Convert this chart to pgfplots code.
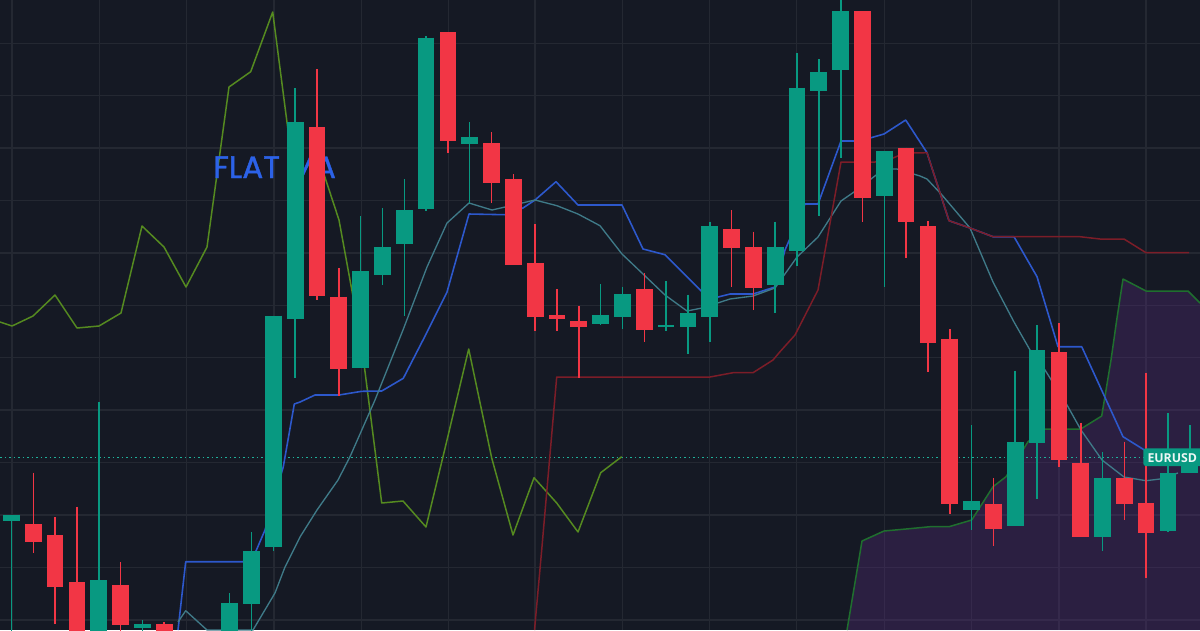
\documentclass[border=0pt]{standalone}
\usepackage{pgfplots}
\usepackage{pgfplotstable}
\usepackage{fontspec}
\pgfplotsset{compat=1.18}
\setmainfont{Open Sans}
\newfontfamily\flatfont[FakeBold=1.3]{Poppins}
\definecolor{bgc}{HTML}{151924}
\definecolor{gridc}{HTML}{242832}
\definecolor{upc}{HTML}{089981}
\definecolor{downc}{HTML}{F23645}
\definecolor{bluec}{HTML}{2D58CC}
\definecolor{tealc}{HTML}{3F7A88}
\definecolor{darkredc}{HTML}{7C1D28}
\definecolor{olivec}{HTML}{558A20}
\definecolor{cloudc}{HTML}{1F6F2E}
\definecolor{purplec}{HTML}{5F2E86}
\definecolor{flatc}{HTML}{2C62E8}
\definecolor{dotc}{HTML}{1FB09A}
% x, wick high, body top, body bottom, wick low: chart positions, y growing downward
\pgfplotstableread{
x hi top bot lo
-40 500 510 520 530
11.5 514.7 514.7 521.3 660
98.8 401.7 580 645 660
142.4 620 624 628.3 645
229.7 593.3 603 660 670
251.5 532.3 551 604 660
273.3 315.7 315.7 546.7 551
295.2 88.3 122 318.7 378.3
360.6 216 271.3 368.3 368.3
382.4 208.3 247 274.7 284.7
404.3 179.3 210.3 243.7 315.7
426.1 36 37.7 209.3 210.7
469.7 122 137.3 144 202.7
600.6 284 315.3 324.3 325
622.5 286.7 294.3 316.7 329
666.1 281.3 325.3 327 330.7
687.9 294.7 313.3 326.7 354
709.7 221.7 226 316.7 341.7
775.2 221.7 247 285.3 313.3
797.0 53.3 87.7 251 265.7
818.8 59 72 91 216
840.7 -5 11.3 70 158.3
884.3 150.7 150.7 196 286.7
971.6 425 501.3 510 530
1015.2 370.7 441.7 525.7 525.7
1037.0 325 350 442.7 499
1102.5 452 478 536.7 550.7
1167.9 413.3 472.7 531 532
1189.8 425 452 473 473
}\upT
\pgfplotstableread{
x hi top bot lo
-40 500 510 520 530
33.3 472.7 524.3 542.3 553.3
55.1 517 535.3 586.7 624
77.0 506.7 582 660 670
120.6 562.3 585.3 625.3 645
164.2 622 624 660 670
317.0 69 127.3 295.7 300
338.8 268.3 296.7 368.7 395.7
447.9 32.3 32.3 140.7 152.7
491.5 132 143 182.7 202.7
513.4 174 179.3 264.7 264.7
535.2 224 263.3 316.7 330.7
557.0 289 315.3 319 330.7
578.8 305.7 321 326.7 378.3
644.3 273.3 289 330 341.7
731.6 210 229.3 248 286.7
753.4 231.7 247 287.7 310
862.5 11.3 11.3 198.3 221.7
906.1 147.7 147.7 222.3 257.7
927.9 221.3 226 343 372
949.8 329 338.7 504.3 514.3
993.4 478.3 503.7 529 545.7
1058.9 323.3 352 460 466.7
1080.7 422.7 462.7 536.7 536.7
1124.3 441.7 478 504.3 520
1146.1 372.7 503.3 533.3 577.7
}\downT
\begin{document}
\begin{tikzpicture}
\path[use as bounding box] (0,0) rectangle (720pt,378pt);
\begin{axis}[
  at={(0,0)},anchor=south west,
  scale only axis,width=720pt,height=378pt,
  xmin=0,xmax=1200,ymin=0,ymax=630,y dir=reverse,
  axis background/.style={fill=bgc},
  axis line style={draw=none},
  tick style={draw=none},
  xticklabels={},yticklabels={},
  xtick={12,99.3,186.6,274,361.3,448.6,535,622.3,709.5,796.8,884.2,971.3,1059,1146},
  ytick={43.3,95.6,148,200.5,253,305.5,357.8,410,462.5,515,567.3,620},
  grid=major,
  major grid style={draw=gridc,line width=0.7pt},
  clip=true,
]
% cloud fill
\addplot[fill=purplec,fill opacity=0.3,draw=none] coordinates {
(847,630)(862,541)(884,531)(906,529)(930,526.7)(949,526.7)(971.7,520)(993,486.7)(1006,476.7)(1015,463)(1028,441.7)(1045,429)(1080.7,429)(1101.7,416)(1111,360)(1116.7,320)(1123,279)(1146,291)(1188,291)(1200,303)(1200,630)};
\addplot[cloudc,line width=0.9pt,line join=round] coordinates {
(847,630)(862,541)(884,531)(906,529)(930,526.7)(949,526.7)(971.7,520)(993,486.7)(1006,476.7)(1015,463)(1028,441.7)(1045,429)(1080.7,429)(1101.7,416)(1111,360)(1116.7,320)(1123,279)(1146,291)(1188,291)(1200,303)};
% dotted last price
\addplot[dotc,line width=0.75pt,dash pattern=on 0.9pt off 1.8pt] coordinates {(0,457.8)(1200,457.8)};
% olive
\addplot[olivec,line width=0.9pt,line join=round] coordinates {
(0,322)(12,326)(33,316)(55,295)(77,328)(99,326)(121,313)(142,226)(164,247)(186,287)(207,247)(229,87)(250.7,71.7)(272.7,12)(295,184)(317,153)(339,220)(361,340)(381.7,503)(403,501)(426,527)(447.5,438)(468.7,349)(491.7,458)(513,535)(534,477.7)(556.7,503)(578,532)(600.7,472.7)(621.7,456.7)};
% blue
\addplot[bluec,line width=0.95pt,line join=round] coordinates {
(178,630)(185.7,561.7)(243,561.7)(256,551)(265,530)(283.3,466.7)(294.3,404)(300,402)(315,395)(339,395)(361.7,391.3)(381.7,391)(403.3,378.3)(423,340)(447,292)(469,214)(505,214.7)(523,208)(535,200)(556,181.7)(578,205)(622,205)(643,249)(665,254.7)(702,291.7)(718,297)(730,294)(753,294)(775,287)(785,250)(805,204)(818,204)(841,141)(854,141)(870,138)(884,134)(905.7,120)(927,152.7)(949,220.7)(970,228)(993,236.7)(1014,236.7)(1037,276.7)(1058,346.7)(1081.7,346.7)(1123,436.7)(1146,451)};
% teal
\addplot[tealc,line width=0.8pt,line join=round] coordinates {
(178,622)(185.7,610.7)(207,630)(253,630)(275,593)(285,567)(300,537)(317,510)(338,480)(350,456.7)(375,400)(403,330)(427,267)(447,223)(469,203)(492,210)(505,207)(535,200)(557,205.7)(578,214)(600,225.7)(622,254)(643,274)(665,295)(687,311)(702,308)(730,299)(753,296)(775,288)(797,257)(818,237)(841,201)(854,192)(884,169)(897,169)(920,176)(927,179)(942,195)(970,228)(993,282)(1014,322)(1030,350)(1045,370)(1050,378)(1067,405)(1081,430)(1102,460)(1124,477)(1146,480.7)(1160,479)(1178,473)};
% dark red
\addplot[darkredc,line width=0.9pt,line join=round] coordinates {
(534.5,630)(541.7,550)(556.7,377)(710,377)(733,372.7)(753,372.7)(773,360)(780,351.7)(795,335)(818,290)(841,162)(875,162)(893,158)(905,153)(927,152.7)(949,220.7)(970,228)(993,236.7)(1080,236.7)(1100,239)(1124,239)(1146,252.7)(1189,252.7)};
% text behind candles
\node[anchor=base west,inner sep=0pt,text=flatc,font=\flatfont\fontsize{18.6pt}{20pt}\selectfont] at (axis cs:213,178) {FLAT MA};
% candles
\addplot[draw=none,mark=none,error bars/.cd,y dir=plus,y explicit,error mark=none,error bar style={upc,line width=0.95pt}] table[x=x,y=hi,y error expr=\thisrow{lo}-\thisrow{hi}] {\upT};
\addplot[draw=none,mark=none,error bars/.cd,y dir=plus,y explicit,error mark=none,error bar style={upc,line width=10pt}] table[x=x,y=top,y error expr=\thisrow{bot}-\thisrow{top}] {\upT};
\addplot[draw=none,mark=none,error bars/.cd,y dir=plus,y explicit,error mark=none,error bar style={downc,line width=0.95pt}] table[x=x,y=hi,y error expr=\thisrow{lo}-\thisrow{hi}] {\downT};
\addplot[draw=none,mark=none,error bars/.cd,y dir=plus,y explicit,error mark=none,error bar style={downc,line width=10pt}] table[x=x,y=top,y error expr=\thisrow{bot}-\thisrow{top}] {\downT};
% label
\fill[upc,rounded corners=1.5pt] (axis cs:1143.3,448.3) rectangle (axis cs:1215,466);
\node[anchor=base,inner sep=0pt,text=white!92!upc,font=\bfseries\fontsize{7.4pt}{9pt}\selectfont] at (axis cs:1172.3,462) {EURUSD};
\end{axis}
\end{tikzpicture}
\end{document}
